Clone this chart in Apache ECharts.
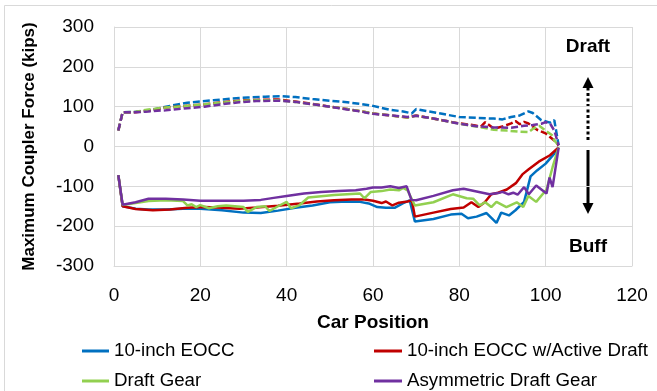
<!DOCTYPE html>
<html>
<head>
<meta charset="utf-8">
<script src="https://cdn.jsdelivr.net/npm/echarts@6/dist/echarts.min.js"></script>
<style>
html,body{margin:0;padding:0;background:#fff;}
#c{width:657px;height:391px;}
</style>
</head>
<body>
<div id="c"></div>
<script>
// ---- Data (car position, maximum coupler force in kips) ----
var seriesNames = ['10-inch EOCC', '10-inch EOCC w/Active Draft', 'Draft Gear', 'Asymmetric Draft Gear'];
var seriesColors = ['#0070C0', '#C00000', '#92D050', '#7030A0'];

// Draft (tension, dashed)
var eoccDraftPos = [1,2,5,7,10,13,17,20,23,27,31,35,39,42,46,50,54,57,60,64,67,69,70,73,76,80,84,88,90,92,94,96,97,99,101,102,103];
var eoccDraftVal = [40,86,87,88,95,102,110,113,116,120,123,125,126,124,119,115,111,107,102,92,88,83,94,88,82,74,72,70,68,74,78,88,84,66,60,66,3];

var activeDraftPos = [1,2,5,8,12,17,21,25,29,33,38,42,46,50,54,57,60,64,68,70,73,76,80,83,85,86,88,90,92,93,94,95,96,98,100,102,103];
var activeDraftVal = [40,86,86,90,98,102,106,111,115,117,118,113,107,100,94,89,83,78,73,78,72,66,58,54,50,61,45,50,58,64,56,62,58,42,33,15,3];

var gearDraftPos = [1,2,5,8,12,17,21,25,29,33,38,42,46,50,54,57,60,64,68,70,73,76,80,84,88,91,94,96,97,98.5,100,101.5,102,103];
var gearDraftVal = [40,86,87,93,98,102,106,110,114,116,116,112,106,100,94,89,83,78,73,77,72,66,57,50,42,40,37,36,44,52,40,28,15,3];

var asymDraftPos = [1,2,5,8,12,17,21,25,29,33,38,42,46,50,54,57,60,64,68,70,73,76,80,84,88,92,95,97,99,100,101,102,103];
var asymDraftVal = [40,86,86,88,91,96,100,106,111,114,115,112,106,100,93,88,82,78,74,77,72,66,57,51,48,47,52,54,57,61,58,40,3];

// Buff (compression, solid)
var eoccBuffPos = [1,2,5,8,12,16,20,25,30,34,38,42,46,50,54,57,59,61,63,65,67,68.5,69.7,74,78,80.5,82,84,86.3,88.6,89.7,91.5,93,95,96.5,98,100,102,103];
var eoccBuffVal = [-72,-150,-156,-158,-158,-156,-156,-160,-166,-167,-161,-154,-148,-140,-138,-139,-143,-152,-154,-154,-142,-135,-188,-182,-171,-169,-180,-176,-167,-192,-166,-173,-160,-139,-75,-60,-43,-18,-2];

var activeBuffPos = [1,2,5,9,13,17,21,25,29,33,38,43,47,51,55,58,60,62,63,64.5,66,68,69,69.7,74,78,81,82.8,84.4,85.9,87.4,89,91,93.1,94.6,96,98.4,101,103];
var activeBuffVal = [-72,-150,-157,-160,-158,-154,-152,-154,-156,-153,-149,-143,-138,-135,-133,-133,-136,-142,-138,-148,-141,-138,-135,-176,-166,-157,-153,-140,-152,-140,-120,-116,-108,-92,-70,-58,-38,-22,-2];

var gearBuffPos = [1,2,5,8,12,16,17,18,19,20,22,24,26,28,30,31,33,35,36,38,40,41,43,45,48,51,54,57,58,59.5,62,64,66,67,68,69.7,74,78.5,81.7,83.2,84.7,86,87.4,88.6,90.9,93.3,94.8,96,97.8,100.2,101.6,103];
var gearBuffVal = [-72,-147,-142,-137,-135,-137,-148,-145,-152,-147,-155,-150,-148,-150,-152,-164,-152,-150,-162,-150,-139,-155,-147,-128,-125,-122,-120,-118,-130,-114,-112,-108,-110,-104,-110,-148,-140,-120,-130,-131,-148,-140,-152,-139,-152,-140,-152,-124,-139,-108,-52,-2];

var asymBuffPos = [1,2,5,8,12,16,20,25,30,34,37,40,44,48,52,56,58.5,60,62,64,66,67.8,68.9,70,74,78.5,81,84,87,89,90,91.4,92.5,93.5,95,96.1,97.8,100.2,100.9,101.6,103];
var asymBuffVal = [-72,-146,-140,-131,-131,-133,-136,-136,-136,-134,-129,-124,-118,-114,-112,-110,-106,-103,-103,-100,-104,-100,-134,-135,-124,-110,-106,-113,-120,-117,-114,-120,-116,-121,-102,-120,-98,-118,-78,-102,-3];

var xTicks = {min: 0, max: 120, interval: 20};
var yTicks = {min: -300, max: 300, interval: 100};

function pairs(p, v) { return p.map(function (x, i) { return [x, v[i]]; }); }

var buffSets = [[eoccBuffPos, eoccBuffVal], [activeBuffPos, activeBuffVal], [gearBuffPos, gearBuffVal], [asymBuffPos, asymBuffVal]];
var draftSets = [[eoccDraftPos, eoccDraftVal], [activeDraftPos, activeDraftVal], [gearDraftPos, gearDraftVal], [asymDraftPos, asymDraftVal]];

var FONT = 'Liberation Sans';
var series = [];
draftSets.forEach(function (s, i) {
  series.push({
    name: seriesNames[i] + ' (draft)', type: 'line', showSymbol: false, symbol: 'none',
    data: pairs(s[0], s[1]), animation: false,
    lineStyle: {color: seriesColors[i], width: 2.5, type: [7, 3]},
    itemStyle: {color: seriesColors[i]}
  });
});
buffSets.forEach(function (s, i) {
  series.push({
    name: seriesNames[i], type: 'line', showSymbol: false, symbol: 'none',
    data: pairs(s[0], s[1]), animation: false,
    lineStyle: {color: seriesColors[i], width: 2.5},
    itemStyle: {color: seriesColors[i]}
  });
});

function mkLegend(name, left, top, w) {
  return {
    show: true, orient: 'horizontal', left: left, top: top, data: [name],
    icon: 'rect', itemWidth: w, itemHeight: 3,
    textStyle: {fontFamily: FONT, fontSize: 18.7, color: '#000', lineHeight: 20},
    selectedMode: false
  };
}

var chart = echarts.init(document.getElementById('c'), null, {renderer: 'canvas'});
chart.setOption({
  animation: false,
  backgroundColor: '#fff',
  grid: {left: 114, right: 25, top: 27, bottom: 125, containLabel: false},
  xAxis: {
    type: 'value', min: xTicks.min, max: xTicks.max, interval: xTicks.interval,
    name: 'Car Position', nameLocation: 'middle', nameGap: 47,
    nameTextStyle: {fontFamily: FONT, fontSize: 19, fontWeight: 'bold', color: '#000'},
    axisLine: {show: true, onZero: false, lineStyle: {color: '#d9d9d9', width: 1}},
    axisTick: {show: false},
    axisLabel: {fontFamily: FONT, fontSize: 19, color: '#000', margin: 20},
    splitLine: {show: true, lineStyle: {color: '#d9d9d9', width: 1}}
  },
  yAxis: {
    type: 'value', min: yTicks.min, max: yTicks.max, interval: yTicks.interval,
    name: 'Maximum Coupler Force (kips)', nameLocation: 'middle', nameGap: 76,
    nameTextStyle: {fontFamily: FONT, fontSize: 17, fontWeight: 'bold', color: '#000'},
    axisLine: {show: true, lineStyle: {color: '#d9d9d9', width: 1}},
    axisTick: {show: false},
    axisLabel: {fontFamily: FONT, fontSize: 19, color: '#000', margin: 20},
    splitLine: {show: true, lineStyle: {color: '#d9d9d9', width: 1}}
  },
  legend: [
    mkLegend(seriesNames[0], 77, 336, 27),
    mkLegend(seriesNames[2], 77, 366, 27),
    mkLegend(seriesNames[1], 369, 336, 28),
    mkLegend(seriesNames[3], 369, 366, 28)
  ],
  series: series,
  graphic: [
    {type: 'rect', shape: {x: 4.5, y: 5.5, width: 800, height: 600}, style: {fill: 'none', stroke: '#d9d9d9', lineWidth: 1}, silent: true},
    {type: 'text', x: 588, y: 47, style: {text: 'Draft', fontFamily: FONT, fontSize: 19, fontWeight: 'bold', fill: '#000', align: 'center', verticalAlign: 'middle'}},
    {type: 'text', x: 588, y: 247, style: {text: 'Buff', fontFamily: FONT, fontSize: 19, fontWeight: 'bold', fill: '#000', align: 'center', verticalAlign: 'middle'}},
    {type: 'line', shape: {x1: 588, y1: 140, x2: 588, y2: 87}, style: {stroke: '#000', lineWidth: 3, lineDash: [3, 2.5]}},
    {type: 'polygon', shape: {points: [[582.5, 88], [593.5, 88], [588, 77]]}, style: {fill: '#000'}},
    {type: 'line', shape: {x1: 588, y1: 150, x2: 588, y2: 204}, style: {stroke: '#000', lineWidth: 3}},
    {type: 'polygon', shape: {points: [[582.5, 203], [593.5, 203], [588, 214]]}, style: {fill: '#000'}}
  ]
});
</script>
</body>
</html>
